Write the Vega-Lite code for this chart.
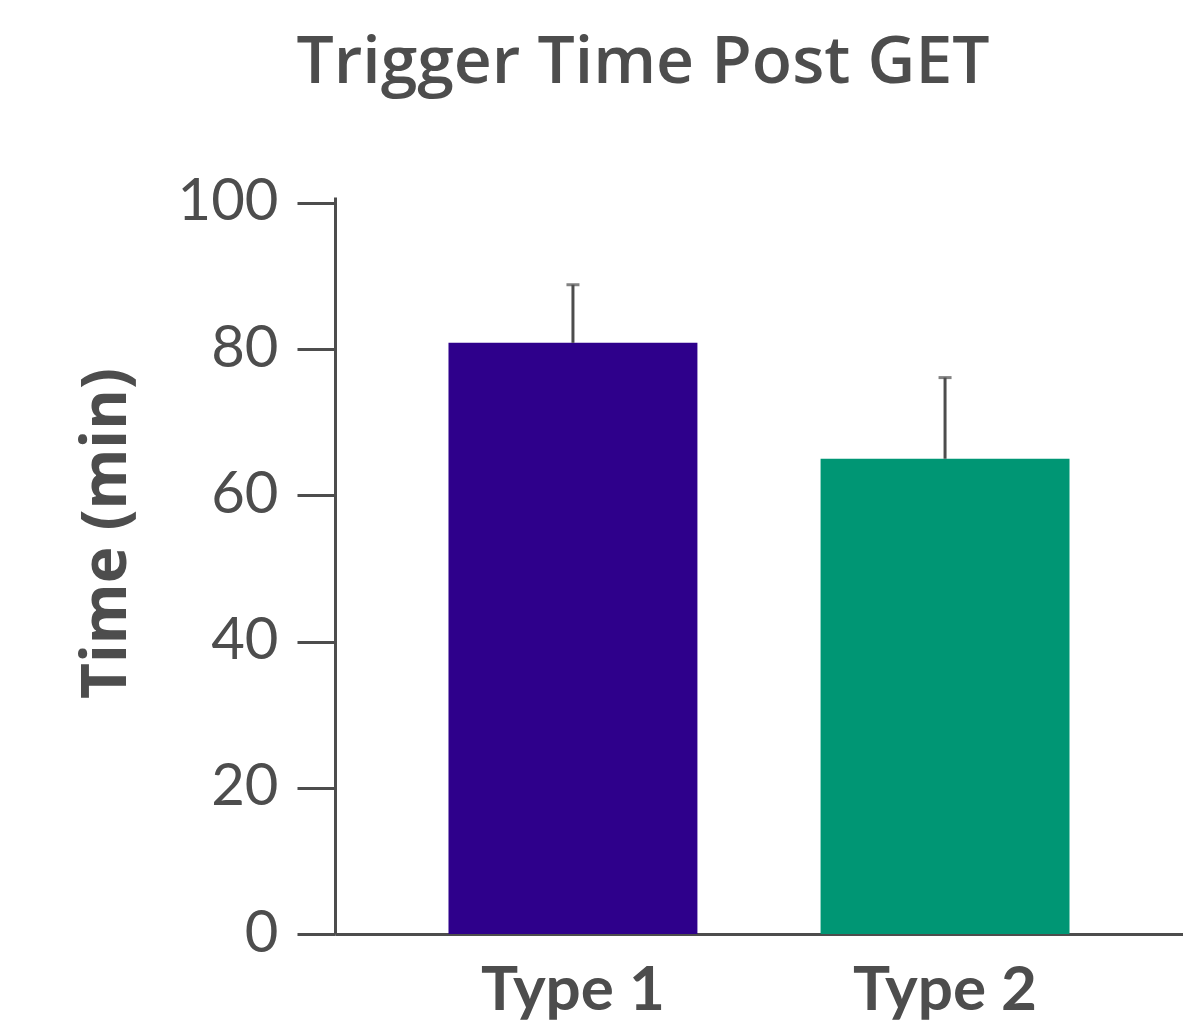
{
  "$schema": "https://vega.github.io/schema/vega-lite/v6.json",
  "autosize": "none",
  "width": 848,
  "height": 737,
  "padding": {"left": 335, "top": 197, "right": 0, "bottom": 96},
  "background": "white",
  "config": {"view": {"stroke": null}, "font": "Lato"},
  "title": {
    "text": "Trigger Time Post GET",
    "font": "Open Sans",
    "fontSize": 66,
    "fontWeight": 600,
    "color": "#4d4d4d",
    "anchor": "middle",
    "dx": -116,
    "baseline": "alphabetic",
    "offset": 25
  },
  "data": {
    "values": [
      {"type": "Type 1", "mean": 80.85, "upper": 88.8},
      {"type": "Type 2", "mean": 65.0, "upper": 76.1}
    ]
  },
  "encoding": {
    "x": {
      "field": "type",
      "type": "nominal",
      "sort": ["Type 1", "Type 2"],
      "scale": {"paddingInner": 0.331, "paddingOuter": 0.305},
      "axis": {
        "title": null,
        "labelAngle": 0,
        "labelFont": "Lato",
        "labelFontWeight": "bold",
        "labelFontSize": 62,
        "labelColor": "#4d4d4d",
        "labelPadding": 26,
        "labelBaseline": "top",
        "labelLimit": 0,
        "ticks": false,
        "domainColor": "#4d4d4d",
        "domainWidth": 3,
        "grid": false
      }
    }
  },
  "layer": [
    {
      "mark": {"type": "bar"},
      "encoding": {
        "y": {
          "field": "mean",
          "type": "quantitative",
          "scale": {"domain": [0, 100.8], "nice": false, "zero": true},
          "axis": {
            "title": "Time (min)",
            "titleFont": "Open Sans",
            "titleFontWeight": "bold",
            "titleFontSize": 62,
            "titleColor": "#4d4d4d",
            "titleAngle": -90,
            "titleAlign": "center",
            "titleBaseline": "alphabetic",
            "titleX": -210,
            "titleY": 336,
            "values": [0, 20, 40, 60, 80, 100],
            "labelFont": "Lato",
            "labelFontSize": 58,
            "labelColor": "#4d4d4d",
            "labelPadding": 19,
            "labelLimit": 0,
            "tickSize": 38,
            "tickWidth": 3,
            "tickColor": "#4d4d4d",
            "domainColor": "#4d4d4d",
            "domainWidth": 3,
            "grid": false
          }
        },
        "color": {
          "field": "type",
          "type": "nominal",
          "scale": {"domain": ["Type 1", "Type 2"], "range": ["#2e008b", "#009674"]},
          "legend": null
        }
      }
    },
    {
      "mark": {"type": "rule", "color": "#4d4d4d", "strokeWidth": 3},
      "encoding": {
        "y": {"field": "mean", "type": "quantitative"},
        "y2": {"field": "upper"}
      }
    },
    {
      "mark": {"type": "tick", "color": "#4d4d4d", "thickness": 3, "size": 13, "orient": "horizontal"},
      "encoding": {
        "y": {"field": "upper", "type": "quantitative"}
      }
    }
  ]
}
